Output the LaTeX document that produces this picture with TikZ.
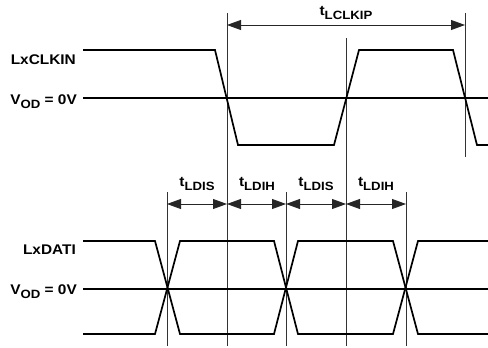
\documentclass[tikz,border=0pt]{standalone}
\usepackage{fontspec}
\setmainfont{Liberation Sans}[FakeStretch=1.1]
\usetikzlibrary{arrows.meta}
\newcommand{\subtxt}[1]{\raisebox{-4pt}{\fontsize{12}{12}\selectfont #1}}
\tikzset{
  sig/.style={line width=1.7pt, line join=miter},
  ref/.style={line width=1.4pt},
  vline/.style={line width=0.9pt, black!80},
  dim/.style={line width=0.8pt, black!85, {Triangle[length=14pt,width=10pt]}-{Triangle[length=14pt,width=10pt]}},
  lbl/.style={font=\fontsize{14}{16}\selectfont\bfseries, inner sep=0pt},
}
\begin{document}
\begin{tikzpicture}[x=1pt, y=-1pt]
\useasboundingbox (0,0) rectangle (488,348);
% reference coordinates
\coordinate (c1t) at (227,13);  \coordinate (c1b) at (227,346);
\coordinate (c2t) at (346,38);  \coordinate (c2b) at (346,346);
\coordinate (c3t) at (465,13);  \coordinate (c3b) at (465,157);
\coordinate (d1t) at (167,192); \coordinate (d1b) at (167,346);
\coordinate (d2t) at (286,192); \coordinate (d2b) at (286,346);
\coordinate (d3t) at (406,192); \coordinate (d3b) at (406,346);
% vertical timing lines
\draw[vline] (c1t) -- (c1b);
\draw[vline] (c2t) -- (c2b);
\draw[vline] (c3t) -- (c3b);
\draw[vline] (d1t) -- (d1b);
\draw[vline] (d2t) -- (d2b);
\draw[vline] (d3t) -- (d3b);
% labels
\node[lbl, anchor=east] (clk) at (76,60) {LxCLKIN};
\node[lbl, anchor=base east] (vod1) at (77,104) {V\subtxt{OD} = 0V};
\node[lbl, anchor=east] (dat) at (76,250) {LxDATI};
\node[lbl, anchor=base east] (vod2) at (77,294) {V\subtxt{OD} = 0V};
% clock
\coordinate (clkstart) at (83,50);
\draw[sig] (clkstart) -- (215,50) -- (238,145) -- (334,145) -- (359,50) -- (453,50) -- (477,145) -- (488,145);
\coordinate (ref1a) at (83,98); \coordinate (ref1b) at (488,98);
\draw[ref] (ref1a) -- (ref1b);
% data
\draw[sig] (83,241) -- (155,241) -- (180,334) -- (274,334) -- (298,241) -- (393,241) -- (418,334) -- (488,334);
\draw[sig] (83,334) -- (155,334) -- (180,241) -- (274,241) -- (298,334) -- (393,334) -- (418,241) -- (488,241);
\coordinate (ref2a) at (83,289); \coordinate (ref2b) at (488,289);
\draw[ref] (ref2a) -- (ref2b);
% dimension arrows
\coordinate (a0) at (227,25); \coordinate (a1) at (465,25);
\draw[dim] (a0) -- (a1);
\node[lbl, anchor=base] (tclk) at (346,16) {t\subtxt{LCLKIP}};
\coordinate (b0) at (167,204); \coordinate (b1) at (227,204);
\coordinate (b2) at (286,204); \coordinate (b3) at (346,204);
\coordinate (b4) at (406,204);
\draw[dim] (b0) -- (b1);
\draw[dim] (b1) -- (b2);
\draw[dim] (b2) -- (b3);
\draw[dim] (b3) -- (b4);
\node[lbl, anchor=base] (t1) at (197,186) {t\subtxt{LDIS}};
\node[lbl, anchor=base] (t2) at (257,186) {t\subtxt{LDIH}};
\node[lbl, anchor=base] (t3) at (316,186) {t\subtxt{LDIS}};
\node[lbl, anchor=base] (t4) at (376,186) {t\subtxt{LDIH}};
\end{tikzpicture}
\end{document}
